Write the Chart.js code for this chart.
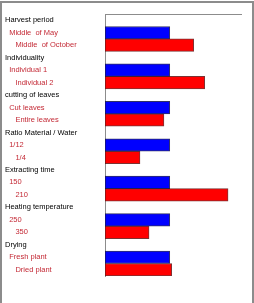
<!DOCTYPE html>
<html>
<head>
<meta charset="utf-8">
<script src="https://cdn.jsdelivr.net/npm/chart.js@4"></script>
<style>
  body { margin: 0; background: #fff; overflow: hidden; }
  #frame { position: absolute; left: 0; top: 1px; width: 250px; height: 330px; border: 2px solid #8c8c8c; }
  #wrap { position: absolute; left: 0; top: 0; width: 254px; height: 303px; }
</style>
</head>
<body>
<div id="frame"></div>
<div id="wrap"><canvas id="myChart" width="254" height="303"></canvas></div>
<script>
const categories = ['Harvest period', '  Middle  of May', '     Middle  of October',
  'Individuality', '  Individual 1', '     Individual 2',
  'cutting of leaves', '  Cut leaves', '     Entire leaves',
  'Ratio Material / Water', '  1/12', '     1/4',
  'Extracting time', '  150', '     210',
  'Heating temperature', '  250', '     350',
  'Drying', '  Fresh plant', '     Dried plant'];
const isHeader = [1,0,0, 1,0,0, 1,0,0, 1,0,0, 1,0,0, 1,0,0, 1,0,0];
const firstValues = [null,100,null, null,100,null, null,100,null, null,100,null, null,100,null, null,100,null, null,100,null];
const secondValues = [null,null,137, null,null,154, null,null,91, null,null,54, null,null,190, null,null,68, null,null,103];

const ctx = document.getElementById('myChart').getContext('2d');
const myChart = new Chart(ctx, {
  type: 'bar',
  data: {
    labels: categories,
    datasets: [{
      label: 'first',
      data: firstValues,
      backgroundColor: '#0000ff',
      borderColor: 'rgba(0,0,60,0.8)',
      borderWidth: 1,
      borderSkipped: false
    }, {
      label: 'second',
      data: secondValues,
      backgroundColor: '#ff0000',
      borderColor: 'rgba(90,0,0,0.8)',
      borderWidth: 1,
      borderSkipped: false
    }]
  },
  options: {
    indexAxis: 'y',
    responsive: false,
    animation: false,
    barPercentage: 1,
    categoryPercentage: 1,
    layout: { padding: { left: 5, top: 14, right: 13, bottom: 27 } },
    plugins: { legend: { display: false }, tooltip: { enabled: false } },
    scales: {
      x: {
        position: 'top',
        min: 0,
        max: 210,
        grid: { display: false },
        ticks: { display: false },
        border: { display: true, color: '#8c8c8c', width: 1 },
        afterFit: function (scale) { scale.height = 0; }
      },
      y: {
        stacked: true,
        grid: { display: false },
        border: { display: true, color: '#8c8c8c', width: 1 },
        ticks: {
          crossAlign: 'far',
          padding: 0,
          autoSkip: false,
          font: { family: "'Liberation Sans', Arial, sans-serif", size: 7.5 },
          color: function (c) { return isHeader[c.index] ? '#000000' : '#c42a36'; }
        },
        afterFit: function (scale) { scale.width = 100; }
      }
    }
  }
});
</script>
</body>
</html>
